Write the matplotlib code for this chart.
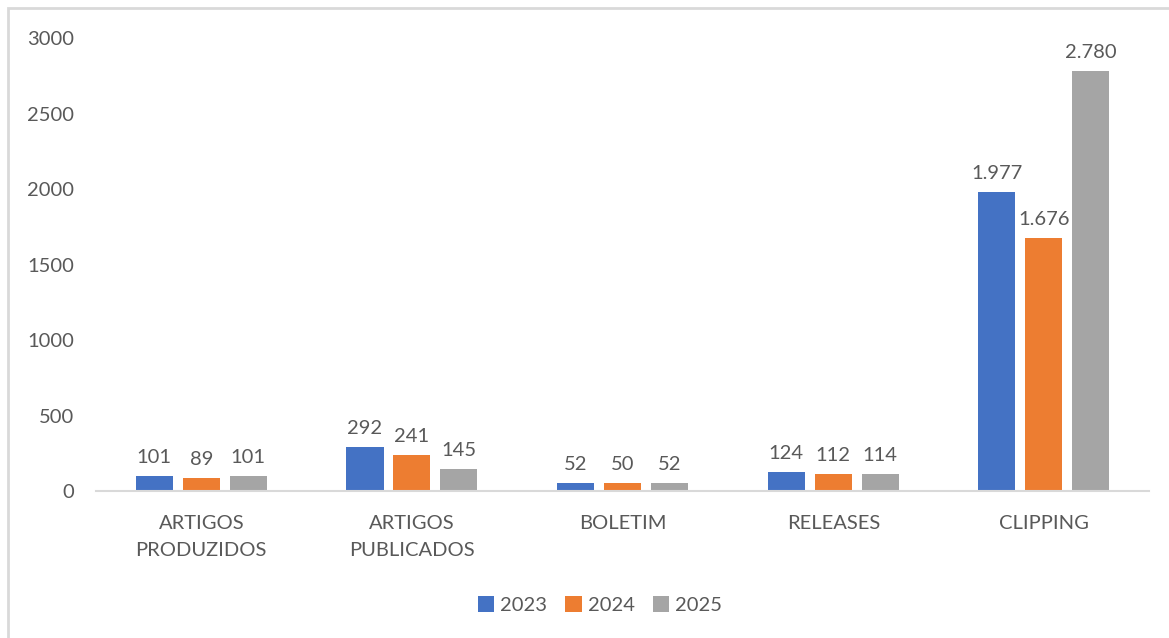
import matplotlib.pyplot as plt
import numpy as np
from matplotlib.patches import Rectangle

plt.rcParams['font.family'] = ['Lato', 'DejaVu Sans']

categories = ["ARTIGOS\nPRODUZIDOS", "ARTIGOS\nPUBLICADOS", "BOLETIM", "RELEASES", "CLIPPING"]
years = ["2023", "2024", "2025"]
values_2023 = [101, 292, 52, 124, 1977]
values_2024 = [89, 241, 50, 112, 1676]
values_2025 = [101, 145, 52, 114, 2780]
colors = ["#4472C4", "#ED7D31", "#A5A5A5"]
text_color = "#595959"


def fmt(v):
    # thousands separator with a dot, as in the source
    return f"{v:,}".replace(",", ".")


fig = plt.figure(figsize=(11.69, 6.38), dpi=100)
ax = fig.add_axes([0.0821, 0.2304, 0.901, 0.71])

# light frame around the chart area
fig.patches.append(Rectangle((8 / 1169, -0.1), 1.2, 1 - 8 / 638 + 0.1,
                             transform=fig.transFigure, fill=False,
                             edgecolor="#D9D9D9", linewidth=2))

x = np.arange(len(categories))
width = 0.176
step = 0.223
series = [values_2023, values_2024, values_2025]
for i, (vals, year) in enumerate(zip(series, years)):
    pos = x + (i - 1) * step
    ax.bar(pos, vals, width, color=colors[i], label=year)
    for p, v in zip(pos, vals):
        ax.annotate(fmt(v), (p, v), xytext=(0, 10), textcoords="offset pixels",
                    ha="center", va="bottom", fontsize=14.5, color=text_color)

ax.set_xlim(-0.5, len(categories) - 0.5)
ax.set_ylim(0, 3000)
ax.set_yticks(range(0, 3001, 500))
ax.set_xticks(x)
ax.set_xticklabels(categories, linespacing=1.75)
ax.tick_params(axis="both", length=0, labelsize=14.5, colors=text_color)
ax.tick_params(axis="y", pad=16)
ax.tick_params(axis="x", pad=17)
for s in ["top", "right", "left"]:
    ax.spines[s].set_visible(False)
ax.spines["bottom"].set_color("#D9D9D9")
ax.spines["bottom"].set_linewidth(1.5)

leg = ax.legend(loc="center", bbox_to_anchor=(600 / 1169, 1 - 605 / 638),
                bbox_transform=fig.transFigure, ncol=3, frameon=False, fontsize=14.5,
                handlelength=0.8, handleheight=0.8, handletextpad=0.3, columnspacing=0.9)
for t in leg.get_texts():
    t.set_color(text_color)

fig.savefig("out.png", dpi=100)
